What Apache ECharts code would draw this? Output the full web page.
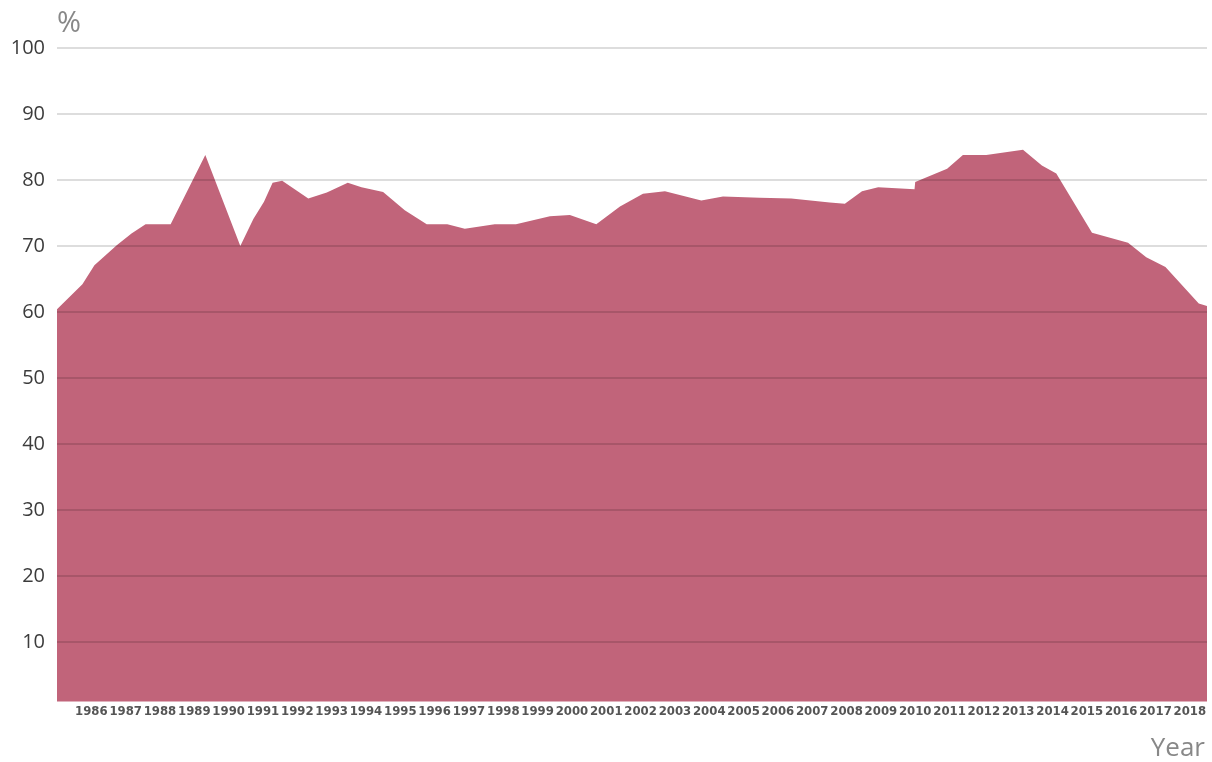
<!DOCTYPE html>
<html lang="en">
<head>
    <meta charset="UTF-8">
    <title>Rate by year</title>
    <script src="https://cdn.jsdelivr.net/npm/echarts@6/dist/echarts.min.js"></script>
    <style>
        html, body { margin: 0; padding: 0; background: #fff; }
        #main { width: 1212px; height: 762px; }
    </style>
</head>
<body>
<div id="main"></div>
<script>
    // x positions in (fractional) years
    var years = [1985.0, 1985.74, 1986.09, 1986.74, 1987.17, 1987.58, 1988.31, 1989.32, 1990.34, 1990.72,
                 1991.03, 1991.28, 1991.56, 1992.32, 1992.86, 1993.47, 1993.87, 1994.50, 1995.13, 1995.77,
                 1996.37, 1996.88, 1997.75, 1998.37, 1999.36, 1999.94, 2000.71, 2001.40, 2002.07, 2002.71,
                 2003.77, 2004.40, 2005.47, 2006.39, 2007.51, 2007.95, 2008.45, 2008.92, 2009.98, 2010.0,
                 2010.93, 2011.39, 2012.07, 2013.14, 2013.69, 2014.11, 2015.15, 2016.20, 2016.73, 2017.29,
                 2018.26, 2018.5];
    var rates = [60.4, 64.2, 67.1, 70.1, 71.9, 73.3, 73.3, 83.8, 70.0, 74.1,
                 76.7, 79.6, 79.9, 77.2, 78.1, 79.6, 78.9, 78.2, 75.4, 73.3,
                 73.3, 72.6, 73.3, 73.3, 74.5, 74.7, 73.3, 76.0, 77.9, 78.3,
                 76.9, 77.5, 77.3, 77.2, 76.6, 76.4, 78.3, 78.9, 78.6, 79.7,
                 81.7, 83.8, 83.8, 84.6, 82.2, 81.0, 72.0, 70.5, 68.3, 66.8,
                 61.3, 60.9];
    var yTicks = [10, 20, 30, 40, 50, 60, 70, 80, 90, 100];

    var points = [];
    for (var i = 0; i < years.length; i++) {
        points.push([years[i], rates[i]]);
    }

    var myChart = echarts.init(document.getElementById('main'), null, {renderer: 'canvas'});
    var option = {
        animation: false,
        grid: { left: 57, right: 5, top: 48, bottom: 54, containLabel: false },
        xAxis: {
            type: 'value',
            min: 1985,
            max: 2018.5,
            interval: 1,
            name: 'Year',
            nameLocation: 'end',
            nameGap: 0,
            nameTextStyle: {
                fontFamily: '"Open Sans", sans-serif',
                fontSize: 26,
                color: '#888',
                align: 'right',
                verticalAlign: 'top',
                padding: [28, 2, 0, 0]
            },
            axisLine: { show: false },
            axisTick: { show: false },
            splitLine: { show: false },
            axisLabel: {
                margin: -3,
                fontFamily: '"DejaVu Sans Condensed", "Liberation Sans Narrow", sans-serif',
                fontWeight: 'bold',
                fontSize: 13,
                color: '#555',
                formatter: function (v) {
                    return (v % 1 === 0 && v > 1985) ? String(v) : '';
                }
            }
        },
        yAxis: {
            type: 'value',
            min: 0,
            max: 100,
            interval: 10,
            z: 5,
            name: '%',
            nameLocation: 'end',
            nameGap: 10,
            nameTextStyle: {
                fontFamily: '"Open Sans", sans-serif',
                fontSize: 29,
                color: '#888',
                align: 'left'
            },
            axisLine: { show: false },
            axisTick: { show: false },
            axisLabel: {
                margin: 12,
                fontFamily: '"Open Sans", sans-serif',
                fontSize: 20,
                color: '#3c3c3c',
                padding: [0, 0, 6, 0],
                formatter: function (v) {
                    return yTicks.indexOf(v) >= 0 ? String(v) : '';
                }
            },
            splitLine: {
                showMinLine: false,
                lineStyle: { color: 'rgba(0,0,0,0.18)', width: 1.5 }
            }
        },
        series: [{
            type: 'line',
            data: points,
            symbol: 'none',
            lineStyle: { width: 0 },
            areaStyle: { color: '#c1647a', opacity: 1, origin: 1 }
        }]
    };
    myChart.setOption(option);
</script>
</body>
</html>
